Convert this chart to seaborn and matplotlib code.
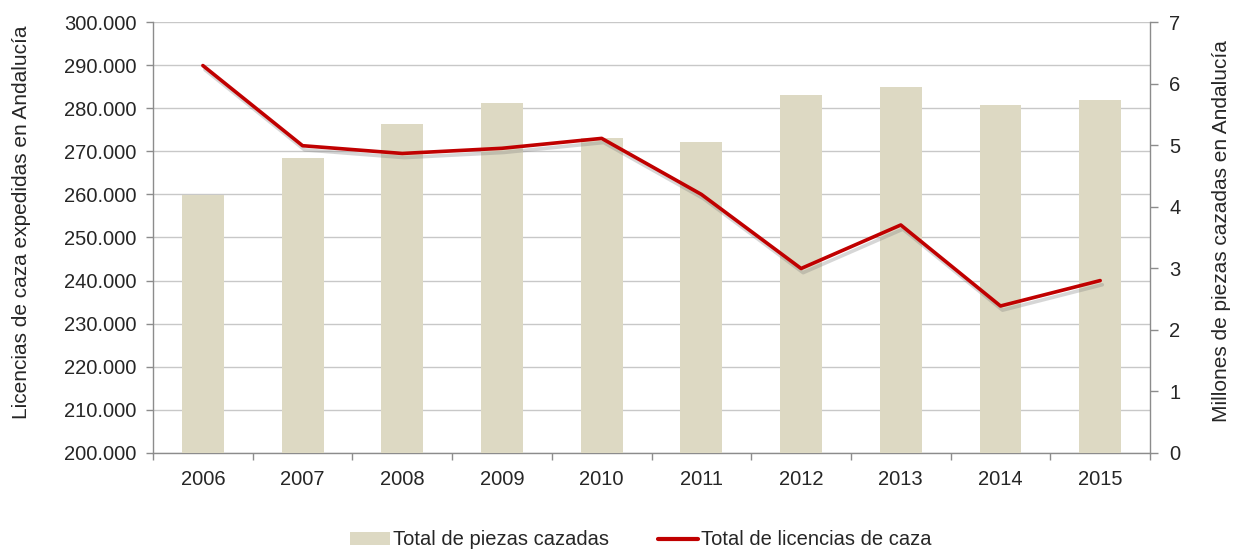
import numpy as np
import pandas as pd
import matplotlib
matplotlib.use("Agg")
import matplotlib.pyplot as plt
import matplotlib.patheffects as pe
from matplotlib.ticker import FuncFormatter, MultipleLocator
from matplotlib.patches import Patch
from matplotlib.lines import Line2D
import seaborn as sns

# ---- data ----
years = ["2006", "2007", "2008", "2009", "2010", "2011", "2012", "2013", "2014", "2015"]
piezas_millones = [4.19, 4.79, 5.34, 5.68, 5.11, 5.05, 5.82, 5.94, 5.65, 5.73]
licencias = [289900, 271300, 269500, 270700, 273000, 260000, 242800, 252900, 234100, 240000]

bar_label = "Total de piezas cazadas"
line_label = "Total de licencias de caza"
left_ylabel = "Licencias de caza expedidas en Andalucía"
right_ylabel = "Millones de piezas cazadas en Andalucía"

BAR_COLOR = "#DDD9C3"
LINE_COLOR = "#C00000"
GRID_COLOR = "#C8C8C8"
SPINE_COLOR = "#8C8C8C"
TEXT_COLOR = "#262626"

sns.set_theme(style="white")
plt.rcParams["font.family"] = ["Liberation Sans", "DejaVu Sans"]
plt.rcParams["text.color"] = TEXT_COLOR
plt.rcParams["axes.labelcolor"] = TEXT_COLOR
plt.rcParams["xtick.color"] = SPINE_COLOR
plt.rcParams["ytick.color"] = SPINE_COLOR

df = pd.DataFrame({"year": years, "piezas": piezas_millones, "licencias": licencias})

fig = plt.figure(figsize=(12.37, 5.51), dpi=100)
ax = fig.add_axes([0.1237, 0.178, 0.806, 0.782])   # left axis: grid + ticks
ax2 = ax.twinx()   # right axis: bars
ax3 = ax.twinx()   # line on left scale

# bars
sns.barplot(data=df, x="year", y="piezas", ax=ax2, color=BAR_COLOR,
            saturation=1, width=0.42, linewidth=0)

# line
sns.lineplot(data=df, x="year", y="licencias", ax=ax3, color=LINE_COLOR,
             linewidth=2.6, sort=False,
             path_effects=[pe.SimpleLineShadow(offset=(1.5, -3), shadow_color="#7a7a7a", alpha=0.3),
                           pe.Normal()])

TICK_FS = 14.5
LABEL_FS = 15

# left axis
ax.set_ylim(200000, 300000)
ax.yaxis.set_major_locator(MultipleLocator(10000))
ax.yaxis.set_major_formatter(FuncFormatter(lambda v, p: f"{int(round(v)):,}".replace(",", ".")))
ax.grid(axis="y", color=GRID_COLOR, linewidth=1)
ax.grid(axis="x", visible=False)
ax.set_ylabel(left_ylabel, fontsize=LABEL_FS, color=TEXT_COLOR)
ax.yaxis.set_label_coords(-0.122, 0.535)
ax.tick_params(axis="y", which="major", left=True, direction="out", length=5, width=1,
               pad=7, labelsize=TICK_FS, labelcolor=TEXT_COLOR)

# x axis categories
ax.set_xlim(-0.5, len(years) - 0.5)
ax.set_xticks(np.arange(-0.5, len(years), 1.0))
ax.set_xticklabels([""] * (len(years) + 1))
ax.set_xticks(np.arange(len(years)), minor=True)
ax.set_xticklabels(years, minor=True)
ax.tick_params(axis="x", which="major", bottom=True, direction="out", length=5, width=1)
ax.tick_params(axis="x", which="minor", bottom=True, length=0, pad=12,
               labelsize=TICK_FS, labelcolor=TEXT_COLOR)
ax.set_xlabel("")

# right axis
ax2.set_ylim(0, 7)
ax2.yaxis.set_major_locator(MultipleLocator(1))
ax2.grid(False)
ax2.set_ylabel(right_ylabel, fontsize=LABEL_FS, color=TEXT_COLOR)
ax2.yaxis.set_label_position("right")
ax2.yaxis.set_label_coords(1.062, 0.515)
ax2.tick_params(axis="y", right=True, direction="out", length=6, width=1, pad=8,
                labelsize=TICK_FS, labelcolor=TEXT_COLOR)

# line axis shares left scale, hidden
ax3.set_ylim(ax.get_ylim())
ax3.set_yticks([])
ax3.set_ylabel("")
ax3.grid(False)
for s in ax3.spines.values():
    s.set_visible(False)

for a in (ax, ax2):
    a.spines["top"].set_visible(False)
    for side in ("left", "right", "bottom"):
        a.spines[side].set_color(SPINE_COLOR)
        a.spines[side].set_linewidth(1)
ax.spines["right"].set_visible(False)
ax2.spines["left"].set_visible(False)
ax2.spines["bottom"].set_visible(False)

if ax2.get_legend():
    ax2.get_legend().remove()
if ax3.get_legend():
    ax3.get_legend().remove()

handles = [Patch(facecolor=BAR_COLOR, edgecolor="none"),
           Line2D([0], [0], color=LINE_COLOR, linewidth=3)]
fig.legend(handles, [bar_label, line_label], loc="center", bbox_to_anchor=(0.518, 0.02),
           ncol=2, frameon=False, fontsize=14.5, handlelength=2.0, handleheight=0.6,
           columnspacing=2.4, handletextpad=0.15)

fig.savefig("out.png", dpi=100, facecolor="white")
